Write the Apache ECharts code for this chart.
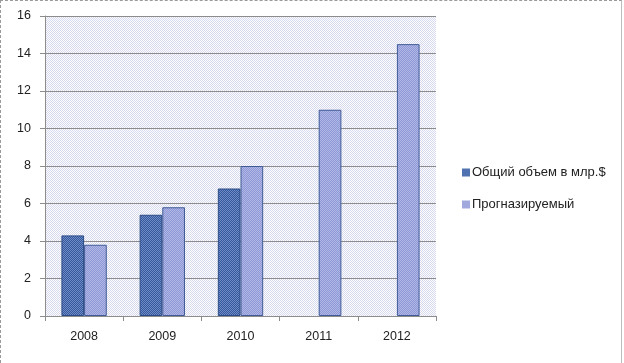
<!DOCTYPE html>
<html>
<head>
<meta charset="utf-8">
<script src="https://cdn.jsdelivr.net/npm/echarts@6/dist/echarts.min.js"></script>
<style>
html,body{margin:0;padding:0;background:#fff;}
#wrap{position:relative;width:624px;height:363px;}
#chart{position:absolute;left:0;top:0;width:624px;height:363px;}
#frame{position:absolute;left:0;top:0;width:620px;height:362px;border-left:1px dashed #9a9a9a;border-top:1px dashed #9a9a9a;border-right:1px solid #bdbdbd;pointer-events:none;}
</style>
</head>
<body>
<div id="wrap"><div id="chart"></div><div id="frame"></div></div>
<script>
var categories = ['2008', '2009', '2010', '2011', '2012'];
var seriesTotal = [4.3, 5.4, 6.8, null, null];
var seriesForecast = [3.8, 5.8, 8.0, 11.0, 14.5];
var seriesNames = ['Общий объем в млр.$', 'Прогназируемый'];
var yTicks = { min: 0, max: 16, interval: 2 };

function pattern(c1, c2) {
  var cv = document.createElement('canvas');
  cv.width = 2; cv.height = 2;
  var ctx = cv.getContext('2d');
  ctx.fillStyle = c1; ctx.fillRect(0, 0, 2, 2);
  ctx.fillStyle = c2; ctx.fillRect(0, 0, 1, 1); ctx.fillRect(1, 1, 1, 1);
  return { image: cv, repeat: 'repeat' };
}

var chart = echarts.init(document.getElementById('chart'), null, { renderer: 'canvas' });
var font = 'Liberation Sans';
chart.setOption({
  animation: false,
  textStyle: { fontFamily: font },
  grid: {
    left: 45, top: 16, right: 188, bottom: 47,
    show: true, borderWidth: 0,
    backgroundColor: pattern('#ffffff', '#d6d9ee')
  },
  legend: {
    orient: 'vertical', left: 457, top: 161,
    itemWidth: 8, itemHeight: 8, itemGap: 19,
    icon: 'rect',
    itemStyle: { borderWidth: 0 },
    textStyle: { fontFamily: font, fontSize: 13, color: '#222', padding: [0, 0, 0, -3] },
    data: seriesNames
  },
  xAxis: {
    type: 'category', data: categories,
    axisLine: { lineStyle: { color: '#8c8c8c', width: 1 } },
    axisTick: { show: true, length: 5, lineStyle: { color: '#8c8c8c' } },
    axisLabel: { color: '#222', fontSize: 12.5, margin: 14, fontFamily: font }
  },
  yAxis: {
    type: 'value', min: yTicks.min, max: yTicks.max, interval: yTicks.interval,
    axisLine: { show: true, lineStyle: { color: '#8c8c8c', width: 1 } },
    axisTick: { show: true, length: 5, inside: false, lineStyle: { color: '#8c8c8c' } },
    axisLabel: { color: '#222', fontSize: 12.5, margin: 14, fontFamily: font },
    splitLine: { show: true, lineStyle: { color: '#8c8c8c', width: 1 } }
  },
  series: [
    {
      name: seriesNames[0], type: 'bar', data: seriesTotal,
      barGap: '0%', barCategoryGap: '42%',
      itemStyle: { color: pattern('#34589a', '#6f8cc8'), borderColor: '#2b4a85', borderWidth: 1 }
    },
    {
      name: seriesNames[1], type: 'bar', data: seriesForecast,
      barGap: '0%', barCategoryGap: '42%',
      itemStyle: { color: pattern('#8f98d6', '#b2b8e6'), borderColor: '#3f5a95', borderWidth: 1 }
    }
  ]
});
</script>
</body>
</html>
